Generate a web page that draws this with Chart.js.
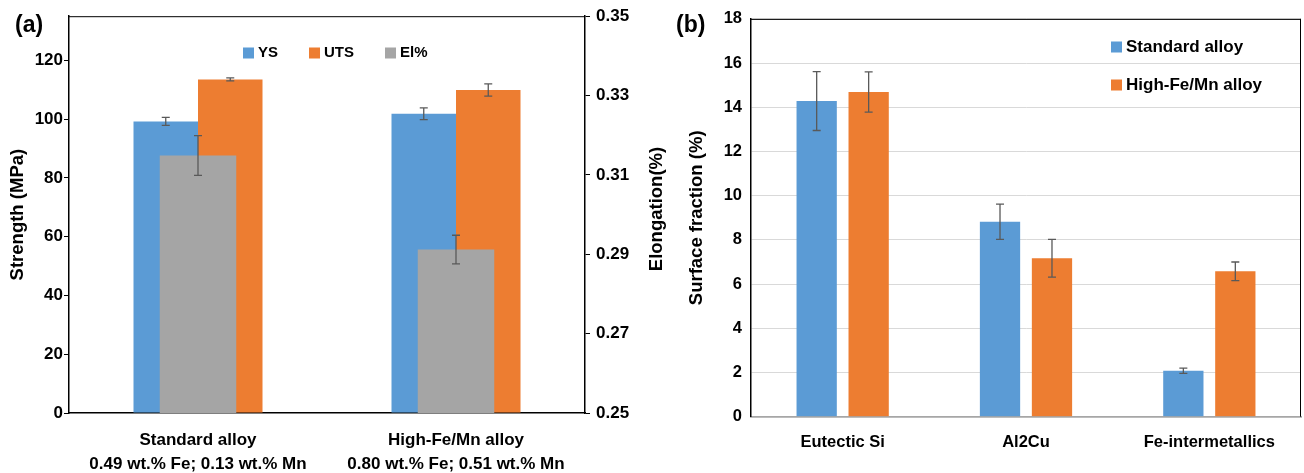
<!DOCTYPE html>
<html>
<head>
<meta charset="utf-8">
<script src="https://cdn.jsdelivr.net/npm/chart.js@4.4.1/dist/chart.umd.min.js"></script>
<style>
  body { margin: 0; background: #fff; }
  #wrapA { position: absolute; left: 0; top: 0; }
  #wrapB { position: absolute; left: 670px; top: 0; }
</style>
</head>
<body>
<div id="wrapA"><canvas id="chartA" width="670" height="473"></canvas></div>
<div id="wrapB"><canvas id="chartB" width="634" height="473"></canvas></div>
<script>
// panel (a) data
const alloys = [
  ["Standard alloy", "0.49 wt.% Fe; 0.13 wt.% Mn"],
  ["High-Fe/Mn alloy", "0.80 wt.% Fe; 0.51 wt.% Mn"]
];
const ysValues = [99.2, 101.8];
const ysErrors = [1.35, 2.0];
const utsValues = [113.5, 109.9];
const utsErrors = [0.5, 2.1];
const elValues = [0.3149, 0.2912];
const elErrors = [0.005, 0.0036];
const strengthTicks = [0, 20, 40, 60, 80, 100, 120];
const elongTicks = [0.25, 0.27, 0.29, 0.31, 0.33, 0.35];

// panel (b) data
const phases = ["Eutectic Si", "Al2Cu", "Fe-intermetallics"];
const stdValues = [14.28, 8.82, 2.08];
const stdErrors = [1.33, 0.8, 0.12];
const highValues = [14.69, 7.17, 6.58];
const highErrors = [0.91, 0.85, 0.42];
const fractionTicks = [0, 2, 4, 6, 8, 10, 12, 14, 16, 18];

const BLUE = "#5b9bd5", ORANGE = "#ed7d31", GREY = "#a5a5a5";
const FAMILY = "'Liberation Sans', Arial, sans-serif";

Chart.defaults.font.family = FAMILY;
Chart.defaults.font.weight = "bold";
Chart.defaults.color = "#000";

// error bars drawn on top of the bars
const errorBars = {
  id: "errorBars",
  afterDatasetsDraw(chart) {
    const ctx = chart.ctx;
    chart.data.datasets.forEach((ds, i) => {
      if (!ds.errors) return;
      const meta = chart.getDatasetMeta(i);
      const yScale = chart.scales[meta.yAxisID];
      ctx.save();
      ctx.strokeStyle = "#595959";
      ctx.lineWidth = 1.3;
      meta.data.forEach((bar, j) => {
        const top = yScale.getPixelForValue(ds.data[j] + ds.errors[j]);
        const bot = yScale.getPixelForValue(ds.data[j] - ds.errors[j]);
        ctx.beginPath();
        ctx.moveTo(bar.x, top); ctx.lineTo(bar.x, bot);
        ctx.moveTo(bar.x - 4, top); ctx.lineTo(bar.x + 4, top);
        ctx.moveTo(bar.x - 4, bot); ctx.lineTo(bar.x + 4, bot);
        ctx.stroke();
      });
      ctx.restore();
    });
  }
};

// frame line(s) and inside legend, panel letter, extra title
const decor = {
  id: "decor",
  afterDraw(chart, args, opts) {
    const ctx = chart.ctx;
    const a = chart.chartArea;
    ctx.save();
    ctx.strokeStyle = "#000";
    ctx.lineWidth = 1;
    ctx.beginPath();
    ctx.moveTo(a.left, a.top + 0.5); ctx.lineTo(a.right, a.top + 0.5);
    if (opts.rightLine) { ctx.moveTo(a.right - 0.5, a.top); ctx.lineTo(a.right - 0.5, a.bottom); }
    ctx.stroke();

    // legend
    ctx.font = "bold " + opts.legendSize + "px " + FAMILY;
    ctx.textBaseline = "middle";
    let x = opts.legendX, y = opts.legendY;
    chart.data.datasets.forEach(ds => {
      ctx.fillStyle = ds.backgroundColor;
      ctx.fillRect(x, y - 5.5, 11, 11);
      ctx.fillStyle = "#000";
      ctx.fillText(ds.label, x + 15, y);
      if (opts.vertical) y += opts.step;
      else x += 15 + ctx.measureText(ds.label).width + opts.gap;
    });

    // panel letter
    ctx.font = "bold 23px " + FAMILY;
    ctx.fillText(opts.letter, opts.letterX, opts.letterY);

    // right-hand title reading bottom to top
    if (opts.sideTitle) {
      ctx.translate(opts.sideX, opts.sideY);
      ctx.rotate(-Math.PI / 2);
      ctx.textAlign = "center";
      ctx.font = "bold 18.5px " + FAMILY;
      ctx.fillText(opts.sideTitle, 0, 0);
    }
    ctx.restore();
  }
};

new Chart(document.getElementById("chartA"), {
  type: "bar",
  data: {
    labels: alloys,
    datasets: [
      { label: "YS", data: ysValues, errors: ysErrors, backgroundColor: BLUE, yAxisID: "y", order: 1,
        categoryPercentage: 0.5, barPercentage: 1 },
      { label: "UTS", data: utsValues, errors: utsErrors, backgroundColor: ORANGE, yAxisID: "y", order: 1,
        categoryPercentage: 0.5, barPercentage: 1 },
      { label: "El%", data: elValues, errors: elErrors, backgroundColor: GREY, yAxisID: "y2", order: 0,
        grouped: false, categoryPercentage: 1, barPercentage: 0.2965 }
    ]
  },
  options: {
    responsive: false,
    animation: false,
    layout: { padding: { top: 15, left: 0, right: 0, bottom: 0 } },
    plugins: {
      legend: { display: false },
      tooltip: { enabled: false },
      decor: {
        legendSize: 15, legendX: 243, legendY: 53, gap: 31,
        letter: "(a)", letterX: 15, letterY: 26,
        sideTitle: "Elongation(%)", sideX: 657, sideY: 209
      }
    },
    scales: {
      x: {
        grid: { display: false },
        border: { display: true, color: "#000", width: 1.5 },
        ticks: { font: { size: 17, lineHeight: "24px" }, padding: 7, maxRotation: 0, autoSkip: false },
        afterFit: s => { s.height = 60; }
      },
      y: {
        position: "left",
        min: 0, max: 135,
        afterBuildTicks: s => { s.ticks = strengthTicks.map(v => ({ value: v })); },
        grid: { display: true, drawOnChartArea: false, drawTicks: true, tickLength: 5, color: "#000" },
        border: { display: true, color: "#000", width: 1.5 },
        ticks: { font: { size: 17 }, padding: 1 },
        title: { display: true, text: "Strength (MPa)", font: { size: 18.5 }, padding: { top: 7 } },
        afterFit: s => { s.width = 69; }
      },
      y2: {
        position: "right",
        min: 0.25, max: 0.35,
        afterBuildTicks: s => { s.ticks = elongTicks.map(v => ({ value: v })); },
        grid: { display: true, drawOnChartArea: false, drawTicks: true, tickLength: 5, color: "#000" },
        border: { display: true, color: "#000", width: 1.5 },
        ticks: { font: { size: 17 }, padding: 6, callback: v => v.toFixed(2) },
        afterFit: s => { s.width = 85; }
      }
    }
  },
  plugins: [errorBars, decor]
});

new Chart(document.getElementById("chartB"), {
  type: "bar",
  data: {
    labels: phases,
    datasets: [
      { label: "Standard alloy", data: stdValues, errors: stdErrors, backgroundColor: BLUE,
        categoryPercentage: 0.567, barPercentage: 0.775 },
      { label: "High-Fe/Mn alloy", data: highValues, errors: highErrors, backgroundColor: ORANGE,
        categoryPercentage: 0.567, barPercentage: 0.775 }
    ]
  },
  options: {
    responsive: false,
    animation: false,
    layout: { padding: { top: 15, left: 0, right: 3, bottom: 0 } },
    plugins: {
      legend: { display: false },
      tooltip: { enabled: false },
      decor: {
        legendSize: 17, legendX: 441, legendY: 47, vertical: true, step: 38,
        letter: "(b)", letterX: 6, letterY: 26, rightLine: true
      }
    },
    scales: {
      x: {
        grid: { display: false },
        border: { display: true, color: "#a6a6a6", width: 1.8 },
        ticks: { font: { size: 16.5, lineHeight: "20px" }, padding: 8, maxRotation: 0, autoSkip: false },
        afterFit: s => { s.height = 56.3; }
      },
      y: {
        min: 0, max: 18,
        afterBuildTicks: s => { s.ticks = fractionTicks.map(v => ({ value: v })); },
        grid: { color: "#d9d9d9", lineWidth: 1, drawTicks: false },
        border: { display: true, color: "#000", width: 1.5 },
        ticks: { font: { size: 16.5 }, padding: 9 },
        title: { display: true, text: "Surface fraction (%)", font: { size: 18.5 }, padding: { top: 16 } },
        afterFit: s => { s.width = 81; }
      }
    }
  },
  plugins: [errorBars, decor]
});
</script>
</body>
</html>
